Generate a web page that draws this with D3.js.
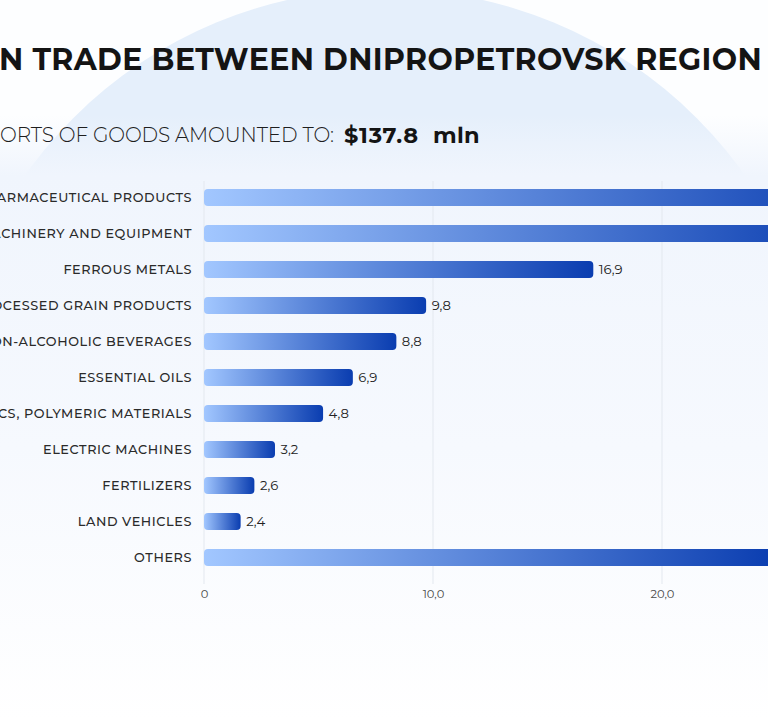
<!DOCTYPE html>
<html><head><meta charset="utf-8">
<script src="https://cdn.jsdelivr.net/npm/d3@7"></script>
<style>
html,body{margin:0;padding:0;background:#fff;overflow:hidden;}
svg{display:block;}
</style></head>
<body>
<svg id="c" width="768" height="720"></svg>
<script>
// ---- data ----
const categories = [
  "PHARMACEUTICAL PRODUCTS",
  "MACHINERY AND EQUIPMENT",
  "FERROUS METALS",
  "PROCESSED GRAIN PRODUCTS",
  "NON-ALCOHOLIC BEVERAGES",
  "ESSENTIAL OILS",
  "PLASTICS, POLYMERIC MATERIALS",
  "ELECTRIC MACHINES",
  "FERTILIZERS",
  "LAND VEHICLES",
  "OTHERS"
];
// bar lengths as drawn in the picture (axis units)
const barValues = [29.2, 28.2, 17.0, 9.7, 8.4, 6.5, 5.2, 3.1, 2.2, 1.6, 25.0];
// value labels printed next to the bars (off-picture ones unknown)
const valueLabels = [null, null, "16,9", "9,8", "8,8", "6,9", "4,8", "3,2", "2,6", "2,4", null];
const tickValues = [0, 10, 20];
const tickLabels = ["0", "10,0", "20,0"];
const titleText = "FOREIGN TRADE BETWEEN DNIPROPETROVSK REGION";
const subtitleText = "EXPORTS OF GOODS AMOUNTED TO:";
const totalAmount = "$137.8";
const totalUnit = "mln";

const FONT = "Montserrat, Inter, 'Noto Sans', sans-serif";
const svg = d3.select("#c");
const defs = svg.append("defs");

// background
const bgGrad = defs.append("linearGradient").attr("id","bgfade").attr("x1",0).attr("y1",0).attr("x2",0).attr("y2",1);
bgGrad.append("stop").attr("offset",0).attr("stop-color","#f1f6fd").attr("stop-opacity",0);
bgGrad.append("stop").attr("offset",0.1).attr("stop-color","#f0f5fd").attr("stop-opacity",1);
bgGrad.append("stop").attr("offset",0.55).attr("stop-color","#f6f9fe").attr("stop-opacity",1);
bgGrad.append("stop").attr("offset",1).attr("stop-color","#ffffff").attr("stop-opacity",1);

svg.append("rect").attr("width",768).attr("height",720).attr("fill","#fdfeff");
svg.append("circle").attr("cx",385).attr("cy",430).attr("r",441).attr("fill","#e5effb");
svg.append("rect").attr("x",0).attr("y",115).attr("width",768).attr("height",605).attr("fill","url(#bgfade)");

// bar gradient
const barGrad = defs.append("linearGradient").attr("id","bar").attr("x1",0).attr("y1",0).attr("x2",1).attr("y2",0);
barGrad.append("stop").attr("offset",0).attr("stop-color","#a2c7ff");
barGrad.append("stop").attr("offset",1).attr("stop-color","#0a3db0");

// scales
const x = d3.scaleLinear().domain([0, 20]).range([204, 662]);
const y = d3.scalePoint().domain(categories).range([197.5, 557.5]);
const barH = 17;

// grid
svg.append("g").selectAll("line").data(tickValues).join("line")
  .attr("x1", d => x(d)).attr("x2", d => x(d))
  .attr("y1", 181).attr("y2", 584)
  .attr("stroke", "#e3e8ef").attr("stroke-width", 1);

// axis
const ax = svg.append("g").attr("transform", "translate(0,586)")
  .call(d3.axisBottom(x).tickValues(tickValues).tickFormat((d, i) => tickLabels[i]).tickSize(0).tickPadding(4));
ax.select(".domain").remove();
ax.selectAll("text").attr("font-family", FONT).attr("font-size", 11.5).attr("fill", "#4a4a4a").attr("font-weight", 400);

// bars
svg.append("g").selectAll("rect").data(barValues).join("rect")
  .attr("x", x(0))
  .attr("y", (d, i) => y(categories[i]) - barH / 2)
  .attr("width", d => x(d) - x(0))
  .attr("height", barH)
  .attr("rx", 4).attr("ry", 4)
  .attr("fill", "url(#bar)");

// value labels
const labelData = barValues.map((v, i) => ({v, label: valueLabels[i], cat: categories[i]}))
  .filter(d => d.label !== null);
svg.append("g").selectAll("text").data(labelData).join("text")
  .attr("x", d => x(d.v) + 5.5)
  .attr("y", d => y(d.cat))
  .attr("dy", "0.35em")
  .attr("font-family", FONT).attr("font-size", 13.2).attr("fill", "#222")
  .text(d => d.label);

// category labels
const catLabels = svg.append("g").selectAll("text").data(categories).join("text")
  .attr("x", 192)
  .attr("y", d => y(d))
  .attr("dy", "0.35em")
  .attr("text-anchor", "end")
  .attr("font-family", FONT).attr("font-size", 12.8).attr("fill", "#2a2a2a")
  .attr("font-weight", 500)
  .text(d => d);

// helper: letter-spacing fit
function lsFit(attrs, sample, target) {
  const t = svg.append("text").attr("x", 0).attr("y", -100);
  Object.entries(attrs).forEach(([k, v]) => t.attr(k, v));
  t.text(sample);
  const w = t.node().getComputedTextLength();
  t.remove();
  return (target - w) / sample.length;
}
const catAttrs = {"font-family": FONT, "font-size": 12.8, "font-weight": 500};
const catLS = lsFit(catAttrs, "ELECTRIC MACHINES", 149);
catLabels.attr("letter-spacing", catLS);

// title
const tAttrs = {"font-family": FONT, "font-size": 30, "font-weight": 700};
const tLS = lsFit(tAttrs, "N TRADE BETWEEN DNIPROPETROVSK REGION", 763);
svg.append("text").attr("x", 762).attr("y", 70).attr("text-anchor", "end")
  .attr("font-family", FONT).attr("font-size", 30).attr("font-weight", 700)
  .attr("fill", "#141414").attr("letter-spacing", tLS).text(titleText);

// subtitle
const sAttrs = {"font-family": FONT, "font-size": 20, "font-weight": 300};
const sLS = lsFit(sAttrs, "ORTS OF GOODS AMOUNTED TO:", 334);
svg.append("text").attr("x", 334).attr("y", 142).attr("text-anchor", "end")
  .attr("font-family", FONT).attr("font-size", 20).attr("font-weight", 300)
  .attr("fill", "#1e1e1e").attr("letter-spacing", sLS).text(subtitleText);

const aAttrs = {"font-family": FONT, "font-size": 22.5, "font-weight": 700};
const aLS = lsFit(aAttrs, totalAmount, 75);
svg.append("text").attr("x", 344).attr("y", 142.5)
  .attr("font-family", FONT).attr("font-size", 22.5).attr("font-weight", 700)
  .attr("fill", "#141414").attr("letter-spacing", aLS).text(totalAmount);
const uLS = lsFit(aAttrs, totalUnit, 47);
svg.append("text").attr("x", 433).attr("y", 142.5)
  .attr("font-family", FONT).attr("font-size", 22.5).attr("font-weight", 700)
  .attr("fill", "#141414").attr("letter-spacing", uLS).text(totalUnit);
</script>
</body></html>
